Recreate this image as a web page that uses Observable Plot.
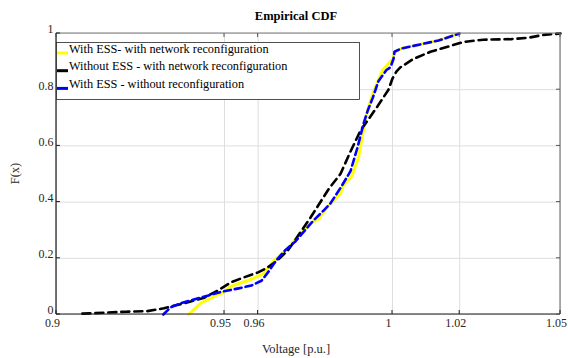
<!DOCTYPE html>
<html><head><meta charset="utf-8">
<script src="https://cdn.jsdelivr.net/npm/d3@7"></script>
<script src="https://cdn.jsdelivr.net/npm/@observablehq/plot@0.6"></script>
<style>body{margin:0;background:#fff} svg{font-family:"Liberation Serif","DejaVu Serif",serif}</style>
</head><body><div id="chart"></div>
<script>
const seriesNames = ["With ESS- with network reconfiguration","Without ESS - with network reconfiguration","With ESS - without reconfiguration"];
const seriesColors = ["#ffff00","#000000","#0000ff"];

const yellowV = [0.9393,0.9429,0.9479,0.9500,0.9518,0.9568,0.9616,0.9646,0.9688,0.9720,0.9756,0.9780,0.9804,0.9845,0.9854,0.9878,0.9899,0.9908,0.9917,0.9929,0.9946,0.9970,0.9991,1.0003,1.0006,1.0027,1.0086,1.0137,1.0199];
const yellowF = [0,0.04,0.07,0.08,0.10,0.12,0.145,0.19,0.235,0.28,0.325,0.34,0.38,0.43,0.46,0.49,0.56,0.62,0.68,0.74,0.80,0.868,0.897,0.91,0.935,0.947,0.962,0.975,1.0];

const blackV = [0.9077,0.9140,0.9205,0.9270,0.9320,0.9380,0.9440,0.9480,0.9520,0.9560,0.9600,0.9625,0.9655,0.9690,0.9756,0.9812,0.9845,0.9875,0.9905,0.9955,0.9988,1.0000,1.0012,1.0024,1.0063,1.0113,1.0164,1.0211,1.0270,1.0354,1.0405,1.0449,1.0500];
const blackF = [0.003,0.006,0.010,0.012,0.022,0.040,0.060,0.085,0.115,0.133,0.150,0.165,0.190,0.230,0.345,0.450,0.500,0.580,0.655,0.740,0.800,0.840,0.865,0.880,0.910,0.935,0.953,0.970,0.978,0.980,0.985,0.995,1.0];

const blueV = [0.9318,0.9339,0.9369,0.9429,0.9488,0.9542,0.9580,0.9610,0.9634,0.9652,0.9682,0.9711,0.9747,0.9765,0.9795,0.9815,0.9845,0.9875,0.9896,0.9914,0.9926,0.9941,0.9958,0.9982,0.9994,1.0003,1.0006,1.0027,1.0086,1.0137,1.0199];
const blueF = [0,0.025,0.04,0.06,0.08,0.093,0.103,0.12,0.157,0.19,0.23,0.26,0.31,0.335,0.37,0.395,0.45,0.51,0.595,0.68,0.725,0.77,0.83,0.87,0.88,0.91,0.935,0.947,0.962,0.975,1.0];

const xTicks = [0.9,0.95,0.96,1,1.02,1.05];
const yTicks = [0,0.2,0.4,0.6,0.8,1];

const toRows = (vs, fs, s) => vs.map((v,i)=>({v, F: fs[i], s}));
const yellowRows = toRows(yellowV, yellowF, seriesNames[0]);
const blackRows = toRows(blackV, blackF, seriesNames[1]);
const blueRows = toRows(blueV, blueF, seriesNames[2]);

const W = 568, H = 358, mL = 56, mR = 8, mT = 33, mB = 44;
const plot = Plot.plot({
  width: W, height: H, marginLeft: mL, marginRight: mR, marginTop: mT, marginBottom: mB,
  style: {fontFamily: '"Liberation Serif", serif', fontSize: "12px", color: "#262626", background: "#fff"},
  x: {domain: [0.9, 1.05]},
  y: {domain: [0, 1]},
  marks: [
    Plot.gridX(xTicks, {stroke: "#dedede", strokeOpacity: 1, strokeWidth: 1}),
    Plot.gridY(yTicks, {stroke: "#dedede", strokeOpacity: 1, strokeWidth: 1}),
    Plot.line(yellowRows, {x: "v", y: "F", stroke: seriesColors[0], strokeWidth: 3}),
    Plot.line(blackRows, {x: "v", y: "F", stroke: seriesColors[1], strokeWidth: 2.6, strokeDasharray: "8,5"}),
    Plot.line(blueRows, {x: "v", y: "F", stroke: seriesColors[2], strokeWidth: 2.6, strokeDasharray: "7,4"}),
    Plot.axisX(xTicks, {tickSize: 0, tickPadding: 4, tickFormat: d => String(d), dx: -4, label: null, fill: "#262626"}),
    Plot.axisY(yTicks, {tickSize: 0, tickPadding: 3, tickFormat: d => String(d), dy: -4, label: null, fill: "#262626"})
  ]
});

const svg = d3.select(plot);
const xs = plot.scale("x"), ys = plot.scale("y");
const x0 = xs.apply(0.9), x1 = xs.apply(1.05), y0 = ys.apply(0), y1 = ys.apply(1);
const g = svg.append("g");
g.append("line").attr("x1", x0).attr("x2", x1).attr("y1", y1).attr("y2", y1).attr("stroke", "#7a7a7a").attr("stroke-width", 1.2);
g.append("line").attr("x1", x1).attr("x2", x1).attr("y1", y0).attr("y2", y1).attr("stroke", "#7a7a7a").attr("stroke-width", 1.2);
g.append("line").attr("x1", x0).attr("x2", x1).attr("y1", y0).attr("y2", y0).attr("stroke", "#1a1a1a").attr("stroke-width", 1.2);
g.append("line").attr("x1", x0).attr("x2", x0).attr("y1", y0).attr("y2", y1).attr("stroke", "#1a1a1a").attr("stroke-width", 1.2);
const tl = 4;
xTicks.forEach(t => {
  const px = xs.apply(t);
  g.append("line").attr("x1", px).attr("x2", px).attr("y1", y0).attr("y2", y0 - tl).attr("stroke", "#1a1a1a");
  g.append("line").attr("x1", px).attr("x2", px).attr("y1", y1).attr("y2", y1 + tl).attr("stroke", "#555");
});
yTicks.forEach(t => {
  const py = ys.apply(t);
  g.append("line").attr("x1", x0).attr("x2", x0 + tl).attr("y1", py).attr("y2", py).attr("stroke", "#1a1a1a");
  g.append("line").attr("x1", x1).attr("x2", x1 - tl).attr("y1", py).attr("y2", py).attr("stroke", "#555");
});
svg.append("text").attr("x", 296).attr("y", 19.5).attr("text-anchor", "middle")
  .attr("font-weight", "bold").attr("font-size", 12.5).attr("fill", "#000").text("Empirical CDF");
svg.append("text").attr("x", 296).attr("y", 353).attr("text-anchor", "middle")
  .attr("font-size", 12.5).attr("fill", "#262626").text("Voltage [p.u.]");
svg.append("text").attr("transform", `translate(19,${(y0 + y1) / 2}) rotate(-90)`).attr("text-anchor", "middle")
  .attr("font-size", 12.5).attr("fill", "#262626").text("F(x)");
const lg = svg.append("g").attr("text-anchor", "start");
lg.append("rect").attr("x", 56.5).attr("y", 42.5).attr("width", 303).attr("height", 57)
  .attr("fill", "#fff").attr("stroke", "#262626").attr("stroke-width", 0.8);
seriesNames.forEach((name, i) => {
  const by = 53 + i * 17.7;
  lg.append("line").attr("x1", 57).attr("x2", 68).attr("y1", by).attr("y2", by)
    .attr("stroke", seriesColors[i]).attr("stroke-width", 3);
  lg.append("text").attr("x", 69).attr("y", by - 0.3).attr("text-anchor", "start")
    .attr("font-size", 12.3).attr("fill", "#000").text(name);
});
document.getElementById("chart").appendChild(plot);
</script>
</body></html>
